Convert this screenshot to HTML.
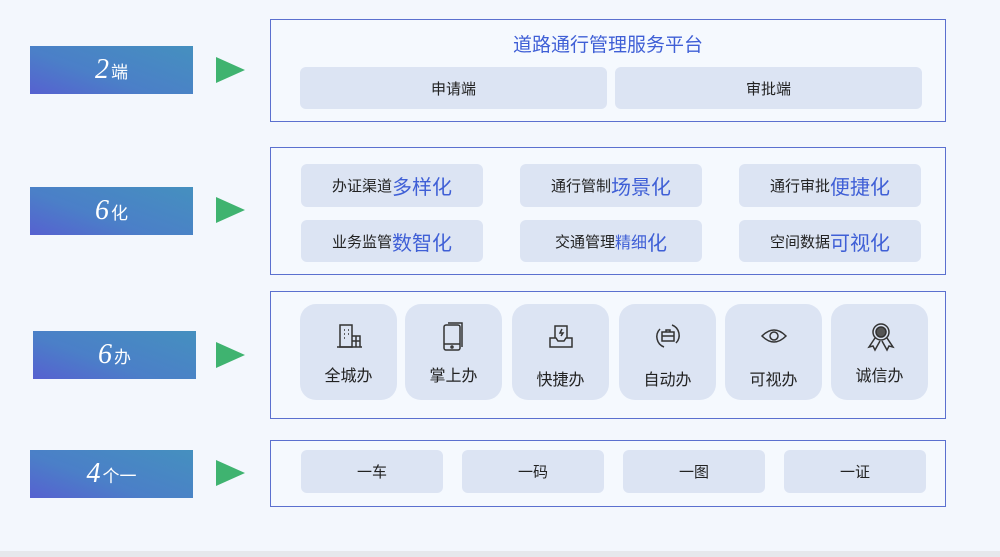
<!DOCTYPE html>
<html><head><meta charset="utf-8"><style>
*{margin:0;padding:0;box-sizing:border-box}
body{width:1000px;height:557px;background:#f3f7fd;position:relative;overflow:hidden;font-family:"Liberation Sans","Noto Sans CJK SC",sans-serif;color:#222}
.a{position:absolute}
.lab{position:absolute;width:163px;height:48px;background:linear-gradient(20deg,#5661d0 0%,#4b7fc8 40%,#4590bf 100%);color:#fff;display:flex;align-items:center;justify-content:center;font-size:17px}
.lab b{font-family:"Liberation Serif",serif;font-style:italic;font-weight:normal;font-size:28px;margin-right:2px}
.tri{position:absolute;width:0;height:0;border-top:13px solid transparent;border-bottom:13px solid transparent;border-left:29px solid #3fb370}
.box{position:absolute;left:270px;width:676px;border:1.5px solid #5b70cf;background:#f5f9fe}
.p{position:absolute;background:#dce4f3;border-radius:6px;display:flex;align-items:center;justify-content:center;font-size:15px;color:#222}
.p span{color:#3f5fd6;font-size:20px}
.c{position:absolute;top:304px;width:97px;height:96px;background:#dce4f3;border-radius:16px;text-align:center;font-size:16px}
.c svg{position:absolute;left:35px;top:18px}
.c div{position:absolute;left:0;right:0;top:58px}
</style></head><body>
<div class="lab" style="left:30px;top:46px"><b>2</b>端</div>
<div class="lab" style="left:30px;top:187px"><b>6</b>化</div>
<div class="lab" style="left:33px;top:331px"><b>6</b>办</div>
<div class="lab" style="left:30px;top:450px"><b>4</b>个一</div>
<div class="tri" style="left:216px;top:57px"></div>
<div class="tri" style="left:216px;top:197px"></div>
<div class="tri" style="left:216px;top:342px"></div>
<div class="tri" style="left:216px;top:460px"></div>

<div class="box" style="top:19px;height:103px"></div>
<div class="a" style="left:270px;width:676px;top:30px;text-align:center;color:#3f5fd6;font-size:19px">道路通行管理服务平台</div>
<div class="p" style="left:300px;top:67px;width:307px;height:42px">申请端</div>
<div class="p" style="left:615px;top:67px;width:307px;height:42px">审批端</div>

<div class="box" style="top:147px;height:128px"></div>
<div class="p" style="left:301px;top:164px;width:182px;height:43px">办证渠道<span>多样化</span></div>
<div class="p" style="left:520px;top:164px;width:182px;height:43px">通行管制<span>场景化</span></div>
<div class="p" style="left:739px;top:164px;width:182px;height:43px">通行审批<span>便捷化</span></div>
<div class="p" style="left:301px;top:220px;width:182px;height:42px">业务监管<span>数智化</span></div>
<div class="p" style="left:520px;top:220px;width:182px;height:42px">交通管理<span style="font-size:16px">精细</span><span>化</span></div>
<div class="p" style="left:739px;top:220px;width:182px;height:42px">空间数据<span>可视化</span></div>

<div class="box" style="top:291px;height:128px"></div>
<div class="c" style="left:300px"><svg width="28" height="28" fill="none" stroke="#333" stroke-width="1.5"><rect x="5" y="3" width="12" height="22"/><path d="M17 14h8v11h-8M2 25h25M21 14v11M17 19h8"/><path d="M9 8h1M13 8h1M9 12h1M13 12h1M9 16h1"/></svg><div>全城办</div></div>
<div class="c" style="left:405px"><svg width="28" height="30" fill="none" stroke="#333" stroke-width="1.5"><rect x="4" y="3" width="16" height="25" rx="2"/><path d="M8 1h14v24M4 22h16"/><circle cx="12" cy="25" r="1"/></svg><div>掌上办</div></div>
<div class="c" style="left:512px"><svg width="28" height="28" fill="none" stroke="#333" stroke-width="1.5"><path d="M8 16V4h12v12M3 16h6l2 3h6l2-3h6v9H3z"/><path d="M15 7l-2 4h3l-2 3"/></svg><div style="top:62px">快捷办</div></div>
<div class="c" style="left:619px"><svg width="28" height="28" fill="none" stroke="#333" stroke-width="1.5"><path d="M6 7a11 11 0 0 0 4 18M22 21a11 11 0 0 0-4-18"/><rect x="8" y="10" width="12" height="9"/><path d="M12 10V8h4v2M8 14h12"/></svg><div style="top:62px">自动办</div></div>
<div class="c" style="left:725px"><svg width="28" height="28" fill="none" stroke="#333" stroke-width="1.5"><path d="M2 14q12-12 24 0q-12 12-24 0z"/><circle cx="14" cy="14" r="4"/></svg><div style="top:62px">可视办</div></div>
<div class="c" style="left:831px"><svg width="30" height="30" fill="none" stroke="#333" stroke-width="1.5"><circle cx="15" cy="10" r="8"/><circle cx="15" cy="10" r="5" fill="#555"/><path d="M9 16l-6 9 4-1 2 4 5-9M21 16l6 9-4-1-2 4-5-9"/></svg><div>诚信办</div></div>

<div class="box" style="top:440px;height:67px"></div>
<div class="p" style="left:301px;top:450px;width:142px;height:43px">一车</div>
<div class="p" style="left:462px;top:450px;width:142px;height:43px">一码</div>
<div class="p" style="left:623px;top:450px;width:142px;height:43px">一图</div>
<div class="p" style="left:784px;top:450px;width:142px;height:43px">一证</div>
<div class="a" style="left:0;top:551px;width:1000px;height:6px;background:#e6e8ec"></div>
</body></html>
